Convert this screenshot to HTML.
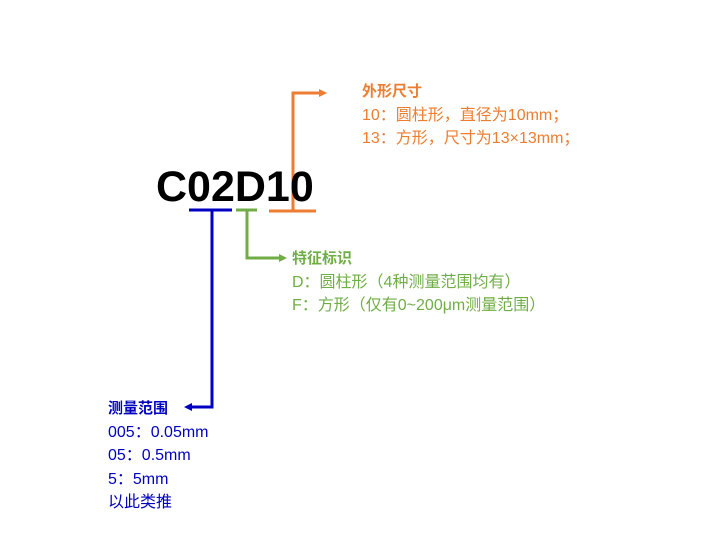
<!DOCTYPE html>
<html><head><meta charset="utf-8"><style>
html,body{margin:0;padding:0;background:#fff;width:717px;height:538px;overflow:hidden}
body{position:relative;font-family:"Liberation Sans","Noto Sans CJK SC",sans-serif}
.t{position:absolute;font-size:16px;line-height:23.5px;white-space:nowrap}
.o{color:#ED7D31}.g{color:#70AD47}.b{color:#0000C0}
.h{font-weight:bold;font-size:15px}
#big{position:absolute;left:156px;top:161px;font-size:43px;font-weight:bold;color:#000;line-height:52px;letter-spacing:0px}
</style></head><body>
<svg width="717" height="538" style="position:absolute;left:0;top:0">
<g stroke-width="3" fill="none">
<line x1="189" y1="210" x2="232" y2="210" stroke="#0000C0"/>
<polyline points="212,210 212,407 190,407" stroke="#0000C0"/>
<line x1="236" y1="210" x2="257" y2="210" stroke="#70AD47"/>
<polyline points="247,210 247,258 280,258" stroke="#70AD47"/>
<line x1="269" y1="211" x2="316" y2="211" stroke="#ED7D31"/>
<polyline points="293,211 293,93 320,93" stroke="#ED7D31"/>
</g>
<polygon points="184,407 192,403 192,411" fill="#0000C0"/>
<polygon points="287,258 279,254 279,262" fill="#70AD47"/>
<polygon points="327,93 319,89 319,97" fill="#ED7D31"/>
</svg>
<div id="big">C02D10</div>
<div class="t o" style="left:362px;top:80px"><span class="h">外形尺寸</span><br>10：圆柱形，直径为10mm；<br>13：方形，尺寸为13×13mm；</div>
<div class="t g" style="left:292px;top:247px"><span class="h">特征标识</span><br>D：圆柱形（4种测量范围均有）<br>F：方形（仅有0~200μm测量范围）</div>
<div class="t b" style="left:108px;top:397px"><span class="h">测量范围</span><br>005：0.05mm<br>05：0.5mm<br>5：5mm<br>以此类推</div>
</body></html>
